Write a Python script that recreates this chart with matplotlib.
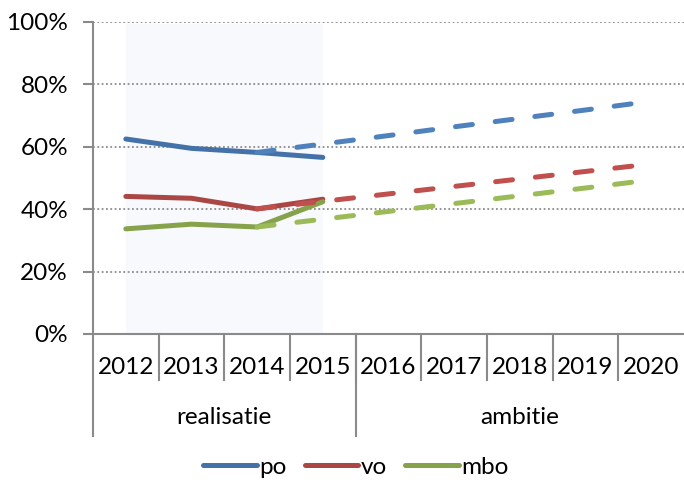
import matplotlib
matplotlib.use("Agg")
import matplotlib.pyplot as plt
import matplotlib.transforms as mtransforms

plt.rcParams['font.family'] = ['Lato', 'DejaVu Sans']

years = ['2012', '2013', '2014', '2015', '2016', '2017', '2018', '2019', '2020']
groups = ['realisatie', 'ambitie']
group_sizes = [4, 5]

# realised values (2012-2015), percent
po_real = [62.5, 59.5, 58.2, 56.6]
vo_real = [44.1, 43.5, 40.1, 43.2]
mbo_real = [33.7, 35.2, 34.3, 42.4]

# ambition values (2014-2020), percent
po_amb = [58.2, 60.9, 63.6, 66.4, 69.1, 71.8, 74.6]
vo_amb = [40.1, 42.5, 44.9, 47.3, 49.7, 52.1, 54.5]
mbo_amb = [34.3, 36.8, 39.3, 41.8, 44.3, 46.8, 49.4]

solid_colors = ['#4472A8', '#AA4643', '#86A34B']
dash_colors = ['#4F81BD', '#C0504D', '#9BBB59']
names = ['po', 'vo', 'mbo']

FS = 17.5
W, H = 684, 488
fig = plt.figure(figsize=(W / 100, H / 100), dpi=100)
left, right, top, bottom = 93, 684, 22, 334
ax = fig.add_axes([left / W, (H - bottom) / H, (right - left) / W, (bottom - top) / H])

n = len(years)
xs = list(range(n))
ax.set_xlim(-0.5, n - 0.5)
ax.set_ylim(0, 100)

# shaded realisation band
ax.axvspan(0, group_sizes[0] - 1, ymin=0, ymax=0.995, color='#F7F9FC', zorder=0, lw=0)

# gridlines
for v in [20, 40, 60, 80, 100]:
    ax.axhline(v, color='#8C8C8C', lw=1.3, linestyle=(0, (1, 1.4)), zorder=1)

real_x = xs[:group_sizes[0]]
amb_x = xs[group_sizes[0] - 2:]
lw = 3.6
handles = []
for real, amb, sc, dc, nm in zip([po_real, vo_real, mbo_real], [po_amb, vo_amb, mbo_amb],
                                 solid_colors, dash_colors, names):
    h, = ax.plot(real_x, real, color=sc, lw=lw, solid_capstyle='round', solid_joinstyle='round',
                 zorder=3, label=nm)
    ax.plot(amb_x, amb, color=dc, lw=lw, dashes=(3.4, 4.6), dash_capstyle='round', zorder=4)
    handles.append(h)

# axes styling
for s in ['top', 'right']:
    ax.spines[s].set_visible(False)
axis_col = '#8A8A8A'
ax.spines['left'].set_color(axis_col)
ax.spines['bottom'].set_color(axis_col)
ax.spines['left'].set_linewidth(1.5)
ax.spines['bottom'].set_linewidth(1.5)
ax.set_yticks([0, 20, 40, 60, 80, 100])
ax.set_yticklabels([f'{v}%' for v in [0, 20, 40, 60, 80, 100]])
ax.tick_params(axis='y', length=7, width=1.5, color=axis_col, pad=11, labelsize=FS)
ax.set_xticks([])

# category axis decorations
trans = mtransforms.blended_transform_factory(ax.transData, ax.transAxes)
ph = bottom - top
year_sep_y = -(380 - bottom) / ph
group_sep_y = -(436 - bottom) / ph
for k in range(1, n):
    b = k - 0.5
    ax.plot([b, b], [0, year_sep_y], transform=trans, color=axis_col, lw=1.5, clip_on=False)
start = 0
bounds = [-0.5]
for gs in group_sizes:
    start += gs
    bounds.append(start - 0.5)
for b in bounds[:-1]:
    ax.plot([b, b], [0, group_sep_y], transform=trans, color=axis_col, lw=1.5, clip_on=False)

year_y = -(367 - bottom) / ph
for x, y in zip(xs, years):
    ax.text(x, year_y, y, transform=trans, ha='center', va='center', fontsize=FS, color='black')
group_y = -(418 - bottom) / ph
for i, g in enumerate(groups):
    c = (bounds[i] + bounds[i + 1]) / 2
    ax.text(c, group_y, g, transform=trans, ha='center', va='center', fontsize=FS, color='black')

fig.legend(handles=handles, labels=names, loc='center', bbox_to_anchor=(356 / W, 1 - 467 / H),
           ncol=3, frameon=False, fontsize=FS, handlelength=2.2, handletextpad=0.1,
           columnspacing=0.75)

fig.savefig('out.png', dpi=100)
